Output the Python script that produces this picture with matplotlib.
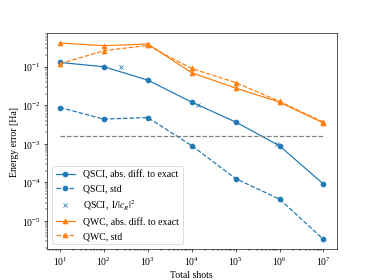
import matplotlib
matplotlib.use("Agg")
import matplotlib.pyplot as plt

plt.rcParams["font.family"] = ["Liberation Serif", "DejaVu Serif"]
plt.rcParams["mathtext.fontset"] = "stix"
plt.rcParams["font.size"] = 12

shots = [1e1, 1e2, 1e3, 1e4, 1e5, 1e6, 1e7]

qsci_abs = [0.129, 0.100, 0.045, 0.0121, 0.0037, 0.00089, 9.1e-5]
qsci_std = [0.00877, 0.00439, 0.00482, 0.000903, 1.26e-4, 3.7e-5, 3.35e-6]

cr_shots = [250, 13700, 870000]
cr_inv = [0.1, 0.0099, 0.001]

qwc_abs = [0.413, 0.351, 0.389, 0.0698, 0.028, 0.0121, 0.00347]
qwc_std = [0.120, 0.260, 0.357, 0.090, 0.039, 0.0126, 0.00366]

chem_acc = 1.6e-3

fig, ax = plt.subplots(figsize=(6.4, 4.8), dpi=374 / 6.4)

ax.plot(shots, qsci_abs, "o-", color="C0", label="QSCI, abs. diff. to exact")
ax.plot(shots, qsci_std, "o--", color="C0", label="QSCI, std")
ax.plot(cr_shots, cr_inv, "x", color="C0", label=r"QSCI, $1/|c_R|^2$")
ax.plot(shots, qwc_abs, "^-", color="C1", label="QWC, abs. diff. to exact")
ax.plot(shots, qwc_std, "^--", color="C1", label="QWC, std")
ax.plot([shots[0], shots[-1]], [chem_acc, chem_acc], "--", color="gray")

ax.set_xscale("log")
ax.set_yscale("log")
ax.set_xlabel("Total shots")
ax.set_ylabel("Energy error [Ha]")
ax.legend(loc="lower left")

plt.savefig("out.png")
